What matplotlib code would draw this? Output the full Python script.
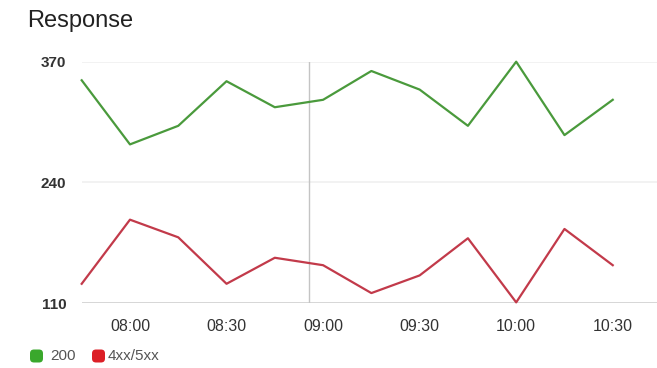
import matplotlib
matplotlib.use("Agg")
import matplotlib.pyplot as plt
from matplotlib.patches import FancyBboxPatch

# ---- data ----
times = ["07:45", "08:00", "08:15", "08:30", "08:45", "09:00",
         "09:15", "09:30", "09:45", "10:00", "10:15", "10:30"]
status_200 = [350, 281, 301, 349, 321, 329, 360, 340, 301, 370, 291, 329]
status_4xx5xx = [131, 200, 181, 131, 159, 151, 121, 140, 180, 111, 190, 151]
y_ticks = [110, 240, 370]
x_tick_labels = ["08:00", "08:30", "09:00", "09:30", "10:00", "10:30"]
cursor_time = "08:55:36"
title = "Response"
legend_labels = ["200", "4xx/5xx"]


def to_min(s):
    parts = [int(p) for p in s.split(":")]
    m = parts[0] * 60 + parts[1]
    if len(parts) > 2:
        m += parts[2] / 60
    return m


x = [to_min(t) for t in times]
xt = [to_min(t) for t in x_tick_labels]

plt.rcParams['font.family'] = ['Liberation Sans', 'DejaVu Sans']

W, H = 657, 368
fig = plt.figure(figsize=(W / 100, H / 100), dpi=100)
left_px, right_px = 81.7, 657
top_px, bot_px = 61.7, 303.3
ax = fig.add_axes([left_px / W, 1 - bot_px / H, (right_px - left_px) / W, (bot_px - top_px) / H])

green_line = '#4a9a3c'
red_line = '#c23a4a'

ax.plot(x, status_200, color=green_line, lw=1.6, clip_on=False, zorder=3)
ax.plot(x, status_4xx5xx, color=red_line, lw=1.6, clip_on=False, zorder=3)

ax.set_ylim(110, 370)
ax.set_xlim(x[0], x[-1] + 13.75)
ax.set_yticks(y_ticks)
ax.set_yticklabels([str(v) for v in y_ticks])
ax.set_xticks(xt)
ax.set_xticklabels(x_tick_labels)

for v in y_ticks[1:]:
    ax.axhline(v, color='#f0f0f0', lw=1.2, zorder=1)
ax.axhline(y_ticks[0], color='#cfcfcf', lw=1.2, zorder=1)
ax.axvline(to_min(cursor_time), color='#c4c4c4', lw=1.0, zorder=2)

for s in ax.spines.values():
    s.set_visible(False)
ax.tick_params(axis='both', length=0, colors='#333333')
ax.tick_params(axis='y', pad=11, labelsize=11)
ax.tick_params(axis='x', pad=11, labelsize=11.5)
for lab in ax.get_yticklabels():
    lab.set_fontweight('bold')

fig.text(27 / W, 1 - 21 / H, title, fontsize=17, color='#222222',
         ha='left', va='center')

# legend
legend_colors = ['#3aa82c', '#dc1f26']
sq = 13
items = [(30, 50), (92, 108)]
for (sx, tx), col, lab in zip(items, legend_colors, legend_labels):
    p = FancyBboxPatch(((sx) / W, 1 - (356 + sq / 2) / H), sq / W, sq / H,
                       boxstyle="round,pad=0,rounding_size=0.006",
                       transform=fig.transFigure, facecolor=col, edgecolor='none',
                       mutation_aspect=W / H)
    fig.patches.append(p)
    fig.text(tx / W, 1 - 356 / H, lab, fontsize=11, color='#555555',
             ha='left', va='center')

fig.savefig("out.png", dpi=100)
